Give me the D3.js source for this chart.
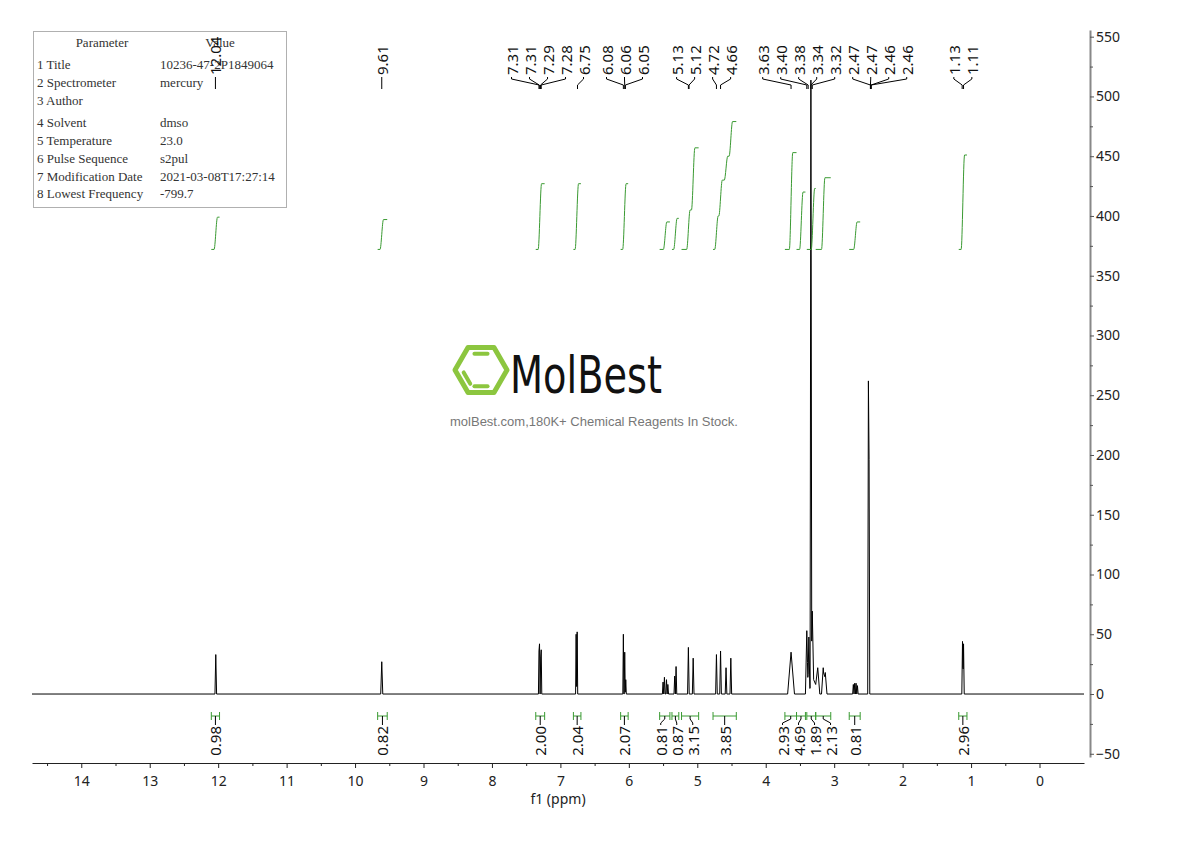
<!DOCTYPE html>
<html>
<head>
<meta charset="utf-8">
<script src="https://cdn.jsdelivr.net/npm/d3@7"></script>
<style>
  body { margin: 0; background: #fff; }
  svg text { font-family: "Noto Sans", "DejaVu Sans", sans-serif; }
</style>
</head>
<body>
<div id="chart"></div>
<script>
// ---- data ----
var xTickValues = [14, 13, 12, 11, 10, 9, 8, 7, 6, 5, 4, 3, 2, 1, 0];
var yTickValues = [-50, 0, 50, 100, 150, 200, 250, 300, 350, 400, 450, 500, 550];

// peaks: position (ppm), height, half width at base (ppm)
var peakPpm   = [12.035, 9.61, 7.313, 7.305, 7.288, 7.280, 6.770, 6.755, 6.080, 6.060, 6.045,
                 5.50, 5.48, 5.45, 5.43, 5.33, 5.31, 5.13, 5.06, 4.72, 4.66, 4.58, 4.51,
                 3.63, 3.40, 3.37, 3.34, 3.32, 3.30, 3.24, 3.16, 3.13,
                 2.72, 2.70, 2.68, 2.66, 2.50, 2.49, 1.125, 1.110];
var peakHeight = [33, 27, 36, 42, 31, 37, 50, 52, 50, 35, 12,
                  10, 14, 12, 8, 15, 23, 39, 30, 33, 36, 22, 30,
                  35, 53, 45, 507, 60, 12, 18, 22, 18,
                  8, 9, 9, 7, 262, 196, 44, 42];
var peakHalfWidth = [0.012, 0.015, 0.008, 0.008, 0.008, 0.008, 0.008, 0.008, 0.008, 0.008, 0.008,
                     0.01, 0.01, 0.01, 0.01, 0.01, 0.01, 0.012, 0.012, 0.012, 0.012, 0.012, 0.012,
                     0.05, 0.02, 0.015, 0.012, 0.02, 0.09, 0.03, 0.025, 0.025,
                     0.01, 0.01, 0.01, 0.01, 0.01, 0.01, 0.01, 0.01];

var peakLabels = ["12.04", "9.61", "7.31", "7.31", "7.29", "7.28", "6.75", "6.08", "6.06", "6.05",
                  "5.13", "5.12", "4.72", "4.66", "3.63", "3.40", "3.38", "3.34", "3.32",
                  "2.47", "2.47", "2.46", "2.46", "1.13", "1.11"];

// integrals: region (ppm), value, steps [ppm, curve level]
var integralFrom  = [12.10, 9.67, 7.36, 6.81, 6.12, 5.55, 5.37, 5.23, 4.77, 3.72, 3.55, 3.40, 3.27, 2.78, 1.18];
var integralTo    = [11.98, 9.53, 7.23, 6.70, 6.01, 5.40, 5.27, 4.98, 4.43, 3.55, 3.42, 3.27, 3.05, 2.62, 1.06];
var integralValue = ["0.98", "0.82", "2.00", "2.04", "2.07", "0.81", "0.87", "3.15", "3.85",
                     "2.93", "4.69", "1.89", "2.13", "0.81", "2.96"];
var integralSteps = [
  [[12.035, 399]],
  [[9.61, 397]],
  [[7.30, 427]],
  [[6.76, 427]],
  [[6.065, 427]],
  [[5.47, 395]],
  [[5.32, 398]],
  [[5.13, 405], [5.06, 457]],
  [[4.72, 400], [4.66, 430], [4.58, 450], [4.51, 479]],
  [[3.63, 453]],
  [[3.48, 420]],
  [[3.31, 423]],
  [[3.16, 432]],
  [[2.69, 395]],
  [[1.12, 451]]
];
var integralBase = 372;

var paramNames  = ["1 Title", "2 Spectrometer", "3 Author", "4 Solvent", "5 Temperature",
                   "6 Pulse Sequence", "7 Modification Date", "8 Lowest Frequency"];
var paramValues = ["10236-47-2P1849064", "mercury", "", "dmso", "23.0", "s2pul",
                   "2021-03-08T17:27:14", "-799.7"];

// ---- chart ----
var W = 1190, H = 841;
var green = "#3a9a32";

var svg = d3.select("#chart").append("svg")
  .attr("width", W).attr("height", H)
  .attr("viewBox", "0 0 " + W + " " + H);

var x = d3.scaleLinear().domain([14.72, -0.65]).range([32, 1084]);
var y = d3.scaleLinear().domain([-52.7, 555.6]).range([757, 30]);

// parameter table
var tableFont = "Liberation Serif, serif";
var table = svg.append("g");
table.append("rect")
  .attr("x", 33.5).attr("y", 31.5).attr("width", 253).attr("height", 176)
  .attr("fill", "#fff").attr("stroke", "#b0b0b0");
table.append("text").attr("x", 102).attr("y", 47).attr("text-anchor", "middle")
  .style("font-family", tableFont).style("font-size", "13px").attr("fill", "#333")
  .text("Parameter");
table.append("text").attr("x", 220).attr("y", 47).attr("text-anchor", "middle")
  .style("font-family", tableFont).style("font-size", "13px").attr("fill", "#333")
  .text("Value");
var rowY = [69, 87, 105, 127, 145, 163, 181, 198];
paramNames.forEach(function(n, i){
  table.append("text").attr("x", 37).attr("y", rowY[i])
    .style("font-family", tableFont).style("font-size", "13px").attr("fill", "#333")
    .text(n);
  table.append("text").attr("x", 160).attr("y", rowY[i])
    .style("font-family", tableFont).style("font-size", "13px").attr("fill", "#333")
    .text(paramValues[i]);
});

// watermark
var wm = svg.append("g");
var hexR = 26, hcx = 481, hcy = 370;
var hexPts = d3.range(6).map(function(k){
  var a = Math.PI / 3 * k;
  return [hcx + hexR * Math.cos(a), hcy + hexR * Math.sin(a)];
});
wm.append("polygon").attr("points", hexPts.map(function(p){ return p.join(","); }).join(" "))
  .attr("fill", "none").attr("stroke", "#8cc63f").attr("stroke-width", 5).attr("stroke-linejoin", "round");
[[4, 5], [1, 2], [2, 3]].forEach(function(e){
  var p = hexPts[e[0]], q = hexPts[e[1]];
  var s = 0.72;
  var ax = hcx + (p[0] - hcx) * s, ay = hcy + (p[1] - hcy) * s;
  var bx = hcx + (q[0] - hcx) * s, by = hcy + (q[1] - hcy) * s;
  var mx = (ax + bx) / 2, my = (ay + by) / 2;
  wm.append("line")
    .attr("x1", mx + (ax - mx) * 0.7).attr("y1", my + (ay - my) * 0.7)
    .attr("x2", mx + (bx - mx) * 0.7).attr("y2", my + (by - my) * 0.7)
    .attr("stroke", "#8cc63f").attr("stroke-width", 4).attr("stroke-linecap", "round");
});
wm.append("text").attr("x", 510).attr("y", 393)
  .attr("textLength", 152).attr("lengthAdjust", "spacingAndGlyphs")
  .style("font-family", "DejaVu Sans, sans-serif").style("font-size", "52px")
  .attr("fill", "#111").text("MolBest");
wm.append("text").attr("x", 594).attr("y", 426).attr("text-anchor", "middle")
  .style("font-family", "Liberation Sans, Arial, sans-serif").style("font-size", "13px")
  .attr("fill", "#777").text("molBest.com,180K+ Chemical Reagents In Stock.");

// spectrum line: vertices of every peak, heights summed at each vertex
var verts = [14.72, -0.65];
peakPpm.forEach(function(p, i){
  verts.push(p + peakHalfWidth[i], p, p - peakHalfWidth[i]);
});
verts.sort(function(a, b){ return b - a; });
function intensity(v){
  var s = 0;
  peakPpm.forEach(function(p, i){
    var d = Math.abs(v - p) / peakHalfWidth[i];
    if (d < 1) s += peakHeight[i] * (1 - d);
  });
  return s;
}
var specData = verts.map(function(v){ return [v, intensity(v)]; });
svg.append("path").datum(specData)
  .attr("fill", "none").attr("stroke", "#000").attr("stroke-width", 1)
  .attr("d", d3.line().x(function(d){ return x(d[0]); }).y(function(d){ return y(d[1]); }));

// integral curves
var intLine = d3.line().x(function(d){ return x(d[0]); }).y(function(d){ return y(d[1]); })
  .curve(d3.curveMonotoneX);
integralSteps.forEach(function(steps, i){
  var pts = [[integralFrom[i], integralBase]];
  var prev = integralBase;
  steps.forEach(function(s){
    pts.push([s[0] + 0.025, prev]);
    pts.push([s[0] - 0.025, s[1]]);
    prev = s[1];
  });
  pts.push([integralTo[i], prev]);
  svg.append("path").datum(pts)
    .attr("fill", "none").attr("stroke", green).attr("stroke-width", 1).attr("d", intLine);
});

// label layout: merge overlapping clusters, centred on their peaks
function layoutLabels(px, gap){
  var clusters = px.map(function(p, i){ return {idx: [i], center: p}; });
  var merged = true;
  while (merged){
    merged = false;
    for (var i = 0; i < clusters.length - 1; i++){
      var a = clusters[i], b = clusters[i + 1];
      var aR = a.center + (a.idx.length - 1) * gap / 2;
      var bL = b.center - (b.idx.length - 1) * gap / 2;
      if (bL - aR < gap){
        var idx = a.idx.concat(b.idx);
        clusters.splice(i, 2, {idx: idx, center: d3.mean(idx, function(k){ return px[k]; })});
        merged = true;
        break;
      }
    }
  }
  var out = [];
  clusters.forEach(function(c){
    c.idx.forEach(function(k, j){
      out[k] = c.center + (j - (c.idx.length - 1) / 2) * gap;
    });
  });
  return out;
}

// top peak labels
var topPx = peakLabels.map(function(l){ return x(+l); });
var topLx = layoutLabels(topPx, 18);
var topG = svg.append("g");
peakLabels.forEach(function(l, i){
  topG.append("path")
    .attr("d", "M" + topLx[i] + ",77 L" + topLx[i] + ",79 L" + topPx[i] + ",85 L" + topPx[i] + ",89")
    .attr("fill", "none").attr("stroke", "#000").attr("stroke-width", 1);
  topG.append("text")
    .attr("transform", "translate(" + topLx[i] + ",75) rotate(-90)")
    .attr("dominant-baseline", "central")
    .style("font-size", "15px").attr("fill", "#111").text(l);
});

// integration brackets and values
var botPx = integralFrom.map(function(f, i){ return x((f + integralTo[i]) / 2); });
var botLx = layoutLabels(botPx, 16);
var botG = svg.append("g");
integralValue.forEach(function(v, i){
  var x1 = x(integralFrom[i]), x2 = x(integralTo[i]);
  botG.append("path")
    .attr("d", "M" + x1 + ",712 L" + x1 + ",720 M" + x1 + ",716 L" + x2 + ",716 M" + x2 + ",712 L" + x2 + ",720")
    .attr("fill", "none").attr("stroke", green).attr("stroke-width", 1);
  botG.append("path")
    .attr("d", "M" + botPx[i] + ",716 L" + botPx[i] + ",719 L" + botLx[i] + ",723 L" + botLx[i] + ",725")
    .attr("fill", "none").attr("stroke", "#000").attr("stroke-width", 1);
  botG.append("text")
    .attr("transform", "translate(" + botLx[i] + ",726) rotate(-90)")
    .attr("text-anchor", "end").attr("dominant-baseline", "central")
    .style("font-size", "15px").attr("fill", "#111").text(v);
});

// x axis
var xAxisG = svg.append("g").attr("transform", "translate(0,763)")
  .call(d3.axisBottom(x).tickValues(xTickValues).tickSize(5).tickSizeOuter(0).tickPadding(8)
    .tickFormat(d3.format("d")));
xAxisG.selectAll("text").style("font-size", "14px").attr("fill", "#222");
xAxisG.select(".domain").attr("stroke", "#222");
xAxisG.selectAll(".tick line").attr("stroke", "#222");
var xMinor = xTickValues.map(function(t){ return t + 0.5; });
svg.append("g").attr("transform", "translate(0,763)")
  .call(d3.axisBottom(x).tickValues(xMinor).tickSize(3).tickFormat(""))
  .call(function(g){ g.select(".domain").remove(); g.selectAll("line").attr("stroke", "#222"); });
svg.append("text").attr("x", 558).attr("y", 804).attr("text-anchor", "middle")
  .style("font-size", "14px").attr("fill", "#222").text("f1 (ppm)");

// y axis
var yAxisG = svg.append("g").attr("transform", "translate(1090,0)")
  .call(d3.axisRight(y).tickValues(yTickValues).tickSize(4).tickSizeOuter(0).tickPadding(2));
yAxisG.selectAll("text").style("font-size", "14px").attr("fill", "#222");
yAxisG.select(".domain").attr("stroke", "#888").attr("stroke-width", 2);
yAxisG.selectAll(".tick line").attr("stroke", "#555");
var yMinor = yTickValues.slice(0, -1).map(function(t){ return t + 25; });
svg.append("g").attr("transform", "translate(1090,0)")
  .call(d3.axisRight(y).tickValues(yMinor).tickSize(3).tickFormat(""))
  .call(function(g){ g.select(".domain").remove(); g.selectAll("line").attr("stroke", "#555"); });
</script>
</body>
</html>
